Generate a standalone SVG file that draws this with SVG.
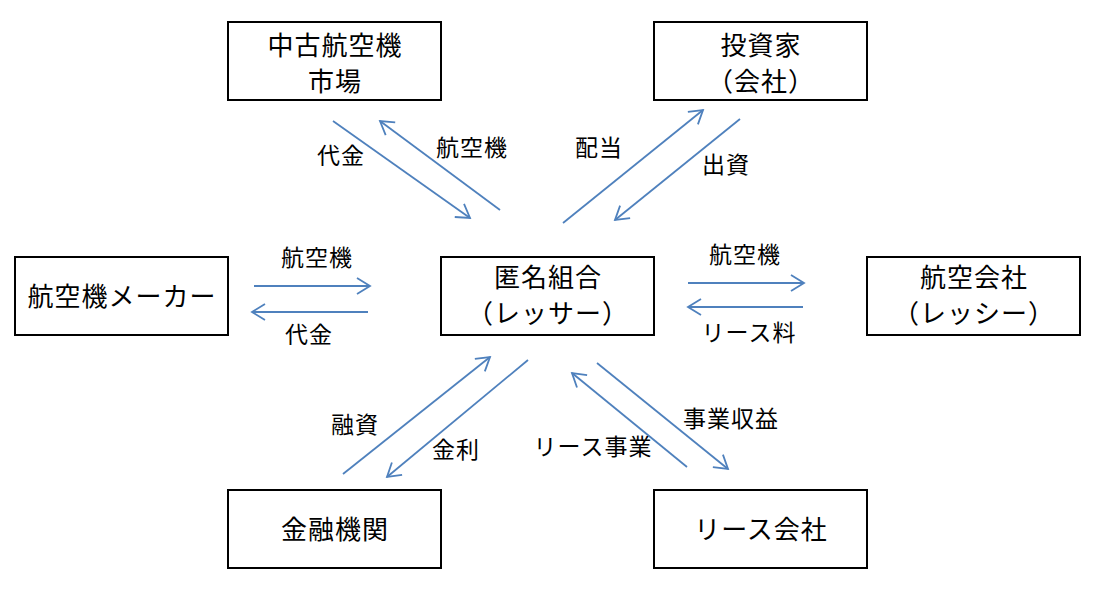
<svg xmlns="http://www.w3.org/2000/svg" width="1098" height="589" viewBox="0 0 1098 589">
<defs>
<style>
.box{fill:#fff;stroke:#000;stroke-width:2}
.bt{font-family:"Noto Sans CJK JP","Noto Sans CJK SC",sans-serif;font-size:26px;letter-spacing:1px;text-anchor:middle;fill:#000}
.lt{font-family:"Noto Sans CJK JP","Noto Sans CJK SC",sans-serif;font-size:23px;letter-spacing:1px;text-anchor:middle;fill:#000}
.ar{stroke:#4F81BD;stroke-width:1.8;fill:none;marker-end:url(#ah)}
</style>
<marker id="ah" viewBox="0 0 20 20" refX="15" refY="10" markerWidth="20" markerHeight="20" markerUnits="userSpaceOnUse" orient="auto">
<path d="M2,2 L15,10 L2,18" fill="none" stroke="#4F81BD" stroke-width="1.8"/>
</marker>
</defs>
<rect width="1098" height="589" fill="#fff"/>
<g id="n-used">
<rect class="box" x="228" y="22" width="213" height="78"/>
<text class="bt" x="335" y="55">中古航空機</text>
<text class="bt" x="335" y="91">市場</text>
</g>
<g id="n-investor">
<rect class="box" x="654" y="22" width="213" height="78"/>
<text class="bt" x="761" y="55">投資家</text>
<text class="bt" x="761" y="91">（会社）</text>
</g>
<g id="n-maker">
<rect class="box" x="15" y="257" width="213" height="78"/>
<text class="bt" x="122" y="306">航空機メーカー</text>
</g>
<g id="n-lessor">
<rect class="box" x="441" y="257" width="213" height="78"/>
<text class="bt" x="548" y="287">匿名組合</text>
<text class="bt" x="548" y="323">（レッサー）</text>
</g>
<g id="n-airline">
<rect class="box" x="867" y="257" width="213" height="78"/>
<text class="bt" x="974" y="287">航空会社</text>
<text class="bt" x="974" y="323">（レッシー）</text>
</g>
<g id="n-bank">
<rect class="box" x="228" y="490" width="213" height="78"/>
<text class="bt" x="335" y="539">金融機関</text>
</g>
<g id="n-lease">
<rect class="box" x="654" y="490" width="213" height="78"/>
<text class="bt" x="761" y="539">リース会社</text>
</g>
<g id="connectors">
<line class="ar" x1="333" y1="121" x2="470" y2="218"/>
<line class="ar" x1="500" y1="210" x2="380" y2="121"/>
<line class="ar" x1="563" y1="223" x2="703" y2="110"/>
<line class="ar" x1="740" y1="119" x2="615" y2="220"/>
<line class="ar" x1="254" y1="286" x2="370" y2="286"/>
<line class="ar" x1="368" y1="312" x2="252" y2="312"/>
<line class="ar" x1="688" y1="283" x2="804" y2="283"/>
<line class="ar" x1="803" y1="307" x2="688" y2="307"/>
<line class="ar" x1="343" y1="474" x2="490" y2="357"/>
<line class="ar" x1="528" y1="360" x2="387" y2="477"/>
<line class="ar" x1="687" y1="467" x2="572" y2="373"/>
<line class="ar" x1="597" y1="363" x2="728" y2="469"/>
</g>
<g id="labels">
<text class="lt" x="341" y="164">代金</text>
<text class="lt" x="472" y="156">航空機</text>
<text class="lt" x="599" y="156">配当</text>
<text class="lt" x="726" y="173">出資</text>
<text class="lt" x="317" y="266">航空機</text>
<text class="lt" x="309" y="343">代金</text>
<text class="lt" x="745" y="263">航空機</text>
<text class="lt" x="749" y="341">リース料</text>
<text class="lt" x="355" y="433">融資</text>
<text class="lt" x="456" y="458">金利</text>
<text class="lt" x="593" y="455">リース事業</text>
<text class="lt" x="731" y="427">事業収益</text>
</g>
</svg>
